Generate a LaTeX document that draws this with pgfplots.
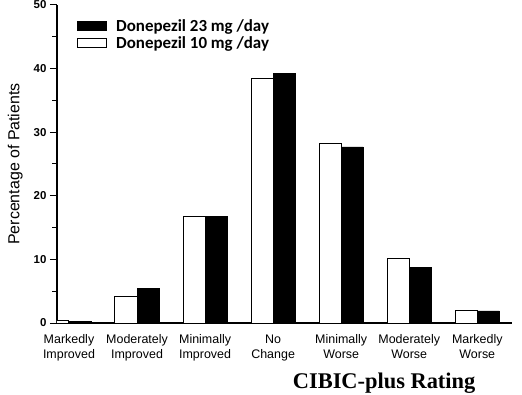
\documentclass[border=0pt]{standalone}
\usepackage{fontspec}
\setmainfont{Liberation Sans}
\newfontfamily\carlito{Carlito}
\newfontfamily\timesfont{Liberation Serif}
\usepackage{pgfplots}
\usetikzlibrary{calc}
\pgfplotsset{compat=1.18}
\begin{document}
\begin{tikzpicture}
\begin{axis}[
  name=ax,
  scale only axis,
  width=455bp, height=318bp,
  xmin=-0.176, xmax=6.51,
  ymin=0, ymax=50,
  axis x line*=bottom, axis y line*=left,
  axis line style={line width=1.3bp, -},
  xtick={0,1,2,3,4,5,6},
  xticklabels={{Markedly\\Improved},{Moderately\\Improved},{Minimally\\Improved},{No\\Change},{Minimally\\Worse},{Moderately\\Worse},{Markedly\\Worse}},
  x tick label style={align=center, font=\fontsize{12.5}{15}\selectfont, yshift=-1bp},
  xtick style={draw=none},
  ytick={0,10,20,30,40,50},
  minor ytick={5,15,25,35,45},
  tick align=outside,
  major tick length=7bp, minor tick length=4.5bp,
  ytick style={line width=1bp, black},
  minor tick style={line width=1bp, black},
  y tick label style={font=\bfseries\fontsize{11.5}{13}\selectfont},
  /pgf/number format/assume math mode=true,
  ylabel={Percentage of Patients},
  ylabel style={at={(axis description cs:-0.092,0.5)}, anchor=center, font=\fontsize{16}{18}\selectfont},
  xlabel={CIBIC-plus Rating},
  xlabel style={at={(axis description cs:0.719,0)}, anchor=base, yshift=-65bp, font=\timesfont\bfseries\fontsize{22.5}{24}\selectfont},
  ybar, bar width=0.324,
  legend style={at={(axis description cs:0.044,0.962)}, anchor=north west, draw=none, fill=none,
    font=\carlito\bfseries\fontsize{17}{19}\selectfont, inner sep=0pt, row sep=0bp,
    /tikz/every even column/.append style={column sep=0bp}},
  legend cell align=left,
  reverse legend,
  legend image code/.code={\draw[#1, line width=1bp] (0bp,-4.5bp) rectangle (29bp,4.5bp);},
]
\addplot[fill=white, draw=black, line width=1bp, bar shift=-0.162] coordinates {
  (0,0.45) (1,4.1) (2,16.8) (3,38.5) (4,28.3) (5,10.2) (6,2.0)};
\addlegendentry{\hspace{7bp}Donepezil 10 mg /day}
\addplot[fill=black, draw=black, line width=0.5bp, bar shift=0.162] coordinates {
  (0,0.3) (1,5.5) (2,16.8) (3,39.3) (4,27.7) (5,8.8) (6,1.9)};
\addlegendentry{\hspace{7bp}Donepezil 23 mg /day}
\end{axis}
\pgfresetboundingbox
\path[use as bounding box] ($(ax.south west)+(-57bp,-72bp)$) rectangle ($(ax.south west)+(465bp,323bp)$);
\end{tikzpicture}
\end{document}
